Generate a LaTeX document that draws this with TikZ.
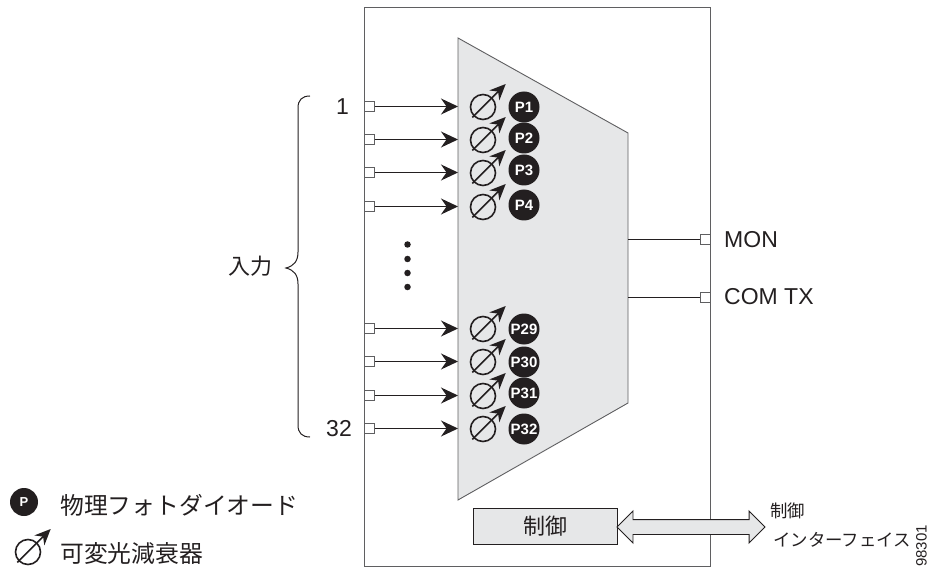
\documentclass[tikz,border=0pt]{standalone}
\usepackage{fontspec}
\setmainfont{Liberation Sans}
\newfontfamily\cjk{Noto Sans CJK JP}
\usetikzlibrary{shapes,arrows.meta,positioning}
\definecolor{MuxGray}{RGB}{230, 231, 232}
\definecolor{LineGray}{RGB}{95, 95, 97}
\definecolor{InkBlack}{RGB}{35, 31, 32}
\tikzset{
  port/.style={draw=LineGray, fill=white, line width=0.9pt, minimum size=10pt, inner sep=0pt},
  inarrow/.style={InkBlack, line width=1.3pt, -{Stealth[length=17pt,width=16pt]}},
  outline/.style={InkBlack, line width=1.3pt},
  pdiode/.style={circle, fill=InkBlack, text=white, minimum size=31pt, inner sep=0pt, font=\fontsize{15}{15}\selectfont\bfseries},
  voaring/.style={circle, draw=InkBlack, line width=1.6pt, minimum size=25pt, inner sep=0pt},
  voaarrow/.style={InkBlack, line width=1.6pt, -{Stealth[length=16pt,width=14pt]}},
  latintext/.style={text=InkBlack, inner sep=0pt, font=\fontsize{23}{23}\selectfont},
  cjktext/.style={text=InkBlack, inner sep=0pt, font=\cjk\fontsize{22}{22}\selectfont},
  smallcjk/.style={text=InkBlack, inner sep=0pt, anchor=west, font=\cjk\fontsize{17.4}{17.4}\selectfont},
  legendcjk/.style={text=InkBlack, inner sep=0pt, anchor=west, font=\cjk\fontsize{23.8}{23.8}\selectfont},
  dot/.style={circle, fill=InkBlack, minimum size=6.5pt, inner sep=0pt},
}
\newcommand{\voamark}[3]{%
  \node[voaring] (#1) at (#2,#3) {};
  \draw[voaarrow] (#2-10.7,#3+10.5) -- (#2+22.7,#3-23);
}
\begin{document}
\begin{tikzpicture}[x=1pt,y=-1pt]
    \useasboundingbox (0,0) rectangle (931,569);

    % Outer box
    \draw[LineGray, line width=1pt] (364,8) rectangle (710,566);

    % Multiplexer
    \coordinate (muxa) at (458,38);
    \coordinate (muxb) at (628,133);
    \coordinate (muxc) at (628,403);
    \coordinate (muxd) at (458,500);
    \draw[LineGray, fill=MuxGray, line width=0.9pt] (muxa) -- (muxb) -- (muxc) -- (muxd) -- cycle;

    % Input channels
    \foreach \n/\y/\py in {1/106.5/107, 2/139.5/138, 3/172.5/170, 4/206.5/205, 29/328.5/329, 30/361.5/362, 31/395.5/393, 32/428.5/429} {
      \node[port] (in\n) at (369.5,\y) {};
      \coordinate (edge\n) at (458,\y);
      \draw[inarrow] (in\n) -- (edge\n);
      \voamark{voa\n}{483}{\y+0.5}
      \node[pdiode] (p\n) at (524,\py) {P\n};
    }

    % Dots between the channels
    \foreach \y/\k in {244.5/a, 259/b, 273/c, 287/d} {
      \node[dot] (dot\k) at (407.5,\y) {};
    }

    % Outputs
    \coordinate (monout) at (628,239.5);
    \coordinate (comout) at (628,297.5);
    \node[port] (mon) at (705,239.5) {};
    \node[port] (com) at (705,297.5) {};
    \draw[outline] (monout) -- (mon);
    \draw[outline] (comout) -- (com);
    \node[latintext, anchor=west] (monlabel) at (724,240) {MON};
    \node[latintext, anchor=west] (comlabel) at (724,297) {COM TX};

    % Input brace
    \draw[InkBlack, line width=1pt] (310,96) .. controls (302,96) and (298,100) .. (298,108)
      -- (298,252) .. controls (298,261) and (294,266) .. (286,268)
      .. controls (294,270) and (298,275) .. (298,284)
      -- (298,425) .. controls (298,433) and (302,437) .. (310,437);
    \node[cjktext] (inlabel) at (250,266) {入力};
    \node[latintext, anchor=east] (first) at (349,106.5) {1};
    \node[latintext, anchor=east] (last) at (352,428.5) {32};

    % Control
    \node[draw=InkBlack, fill=MuxGray, line width=0.9pt, minimum width=144pt, minimum height=36pt, inner sep=0pt, cjktext] (ctrl) at (545,526) {制御};
    \node[double arrow, draw=InkBlack, fill=MuxGray, line width=0.9pt, inner xsep=0pt, inner ysep=7pt, minimum height=148pt, double arrow head extend=8.5pt] (ctrlarrow) at (691,527) {};
    \node[smallcjk] (ctrllabela) at (770,511) {制御};
    \node[smallcjk] (ctrllabelb) at (773,540) {インターフェイス};
    \node[text=InkBlack, inner sep=0pt, rotate=90, font=\fontsize{15}{15}\selectfont] (figno) at (921.5,546) {98301};

    % Legend
    \node[pdiode, minimum size=28pt, font=\fontsize{13}{13}\selectfont\bfseries] (legp) at (24,502) {P};
    \node[legendcjk] (legptext) at (60,505) {物理フォトダイオード};
    \voamark{legv}{28}{552}
    \node[legendcjk] (legvtext) at (60,553) {可変光減衰器};
\end{tikzpicture}
\end{document}
